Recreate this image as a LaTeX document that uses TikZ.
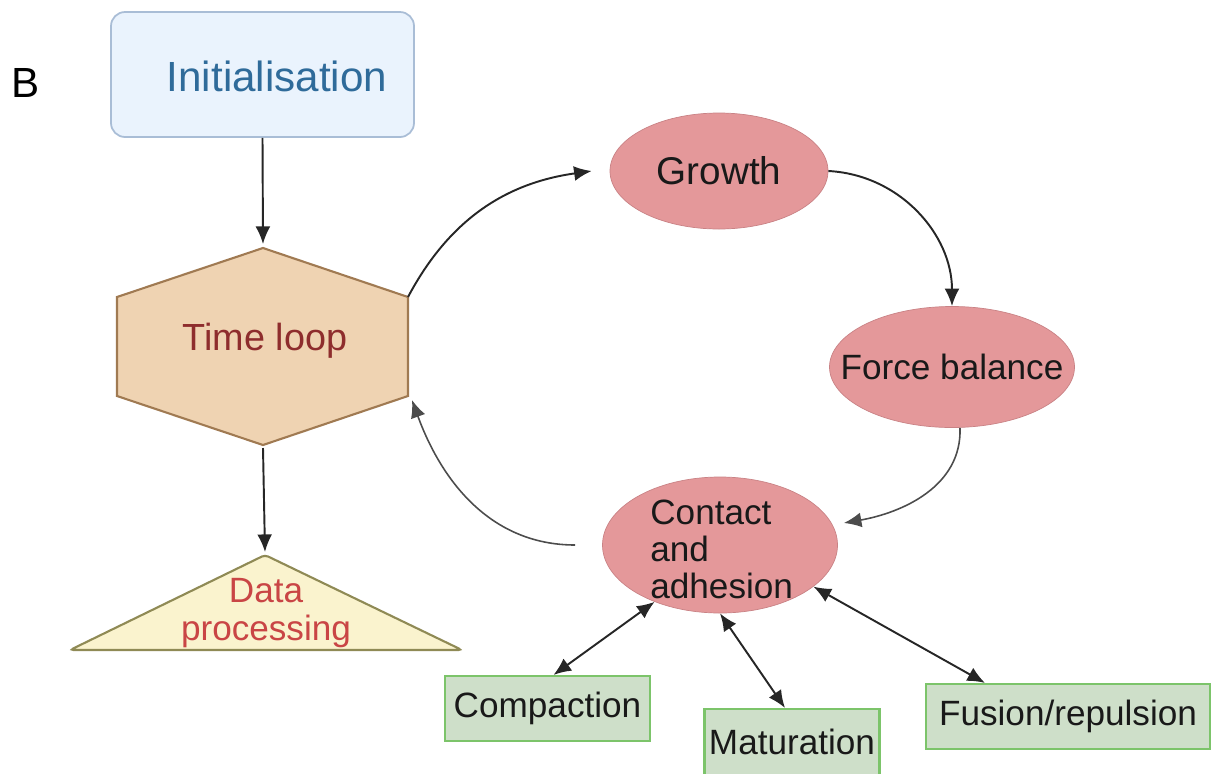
\documentclass[tikz,border=0pt]{standalone}
\usepackage{fontspec}
\setmainfont{Liberation Sans}
\usetikzlibrary{shapes.geometric, arrows.meta}
\definecolor{initfill}{HTML}{EAF3FD}
\definecolor{initdraw}{HTML}{A9BDD6}
\definecolor{inittext}{HTML}{2F6B9A}
\definecolor{hexfill}{HTML}{EFD3B2}
\definecolor{hexdraw}{HTML}{A07A52}
\definecolor{hextext}{HTML}{8E2D2D}
\definecolor{trifill}{HTML}{FAF3CE}
\definecolor{tridraw}{HTML}{8F8A55}
\definecolor{tritext}{HTML}{C94545}
\definecolor{cellfill}{HTML}{E4989A}
\definecolor{celldraw}{HTML}{C98285}
\definecolor{leaffill}{HTML}{CEDFC9}
\definecolor{leafdraw}{HTML}{7CC46A}
\tikzset{
  cell/.style={ellipse, draw=celldraw, fill=cellfill, inner sep=0pt},
  leaf/.style={rectangle, draw=leafdraw, fill=leaffill, line width=1.2pt, inner sep=0pt,
    font=\fontsize{20}{22}\selectfont, text=black!90},
  lbl/.style={inner sep=0pt, font=\fontsize{20}{21}\selectfont, text=black!90},
}

\begin{document}
\begin{tikzpicture}[>={Latex[length=10pt,width=8.5pt]}]
\useasboundingbox (0,0) rectangle (24.24,-15.46);
\node[font=\fontsize{24}{28}\selectfont] (panel) at (0.52,-1.66) {B};
\node[draw=initdraw, fill=initfill, rounded corners=8pt, line width=1pt, minimum width=6.06cm, minimum height=2.5cm] (init) at (5.25,-1.49) {};
\node[lbl, font=\fontsize{24}{27}\selectfont, text=inittext] (inittxt) at (5.54,-1.52) {Initialisation};

% time loop
\coordinate (hexn) at (5.26,-4.96);
\coordinate (hexne) at (8.16,-5.94);
\coordinate (hexse) at (8.16,-7.92);
\coordinate (hexs) at (5.26,-8.9);
\filldraw[fill=hexfill, draw=hexdraw, line width=1.2pt] (hexn) -- (hexne) -- (hexse) -- (hexs) -- (2.34,-7.92) -- (2.34,-5.94) -- cycle;
\node[lbl, font=\fontsize{21.5}{24}\selectfont, text=hextext] (loop) at (5.3,-6.82) {Time loop};

% data processing
\coordinate (trin) at (5.3,-11.1);
\filldraw[fill=trifill, draw=tridraw, line width=1.2pt, rounded corners=2pt] (trin) -- (9.24,-13.0) -- (1.4,-13.0) -- cycle;
\node[lbl, text=tritext, align=center, font=\fontsize{20}{21.6}\selectfont] (data) at (5.32,-12.27) {Data\\processing};

\draw[->, line width=1.1pt, black!85] (init.south) -- ([yshift=0.08cm]hexn);
\draw[->, line width=1.1pt, black!85] ([yshift=-0.06cm]hexs) -- ([yshift=0.06cm]trin);

% the cycle
\node[cell, minimum width=4.36cm, minimum height=2.32cm] (growth) at (14.38,-3.42) {};
\node[lbl, font=\fontsize{22}{24}\selectfont] (growthtxt) at (growth) {Growth};
\node[cell, minimum width=4.9cm, minimum height=2.42cm] (force) at (19.04,-7.34) {};
\node[lbl] (forcetxt) at (force) {Force balance};
\node[cell, minimum width=4.7cm, minimum height=2.72cm] (contact) at (14.4,-10.9) {};
\node[lbl, align=left, anchor=west] (contacttxt) at (13.0,-10.98) {Contact\\and\\adhesion};

\draw[->, line width=1.1pt, black!85] (hexne) to[out=62, in=188] ([xshift=-0.36cm]growth.west);
\draw[->, line width=1.1pt, black!85] (growth.east) to[out=-3, in=90] (force.north);
\draw[->, line width=0.9pt, black!70] ([xshift=0.16cm]force.south) to[out=-88, in=10] ([shift={(0.12,0.44)}]contact.east);
\draw[->, line width=0.9pt, black!70] ([xshift=-0.54cm]contact.west) to[out=180, in=-70] ([shift={(0.08,-0.08)}]hexse);

% sub steps
\node[leaf, minimum width=4.1cm, minimum height=1.3cm] (compact) at (10.95,-14.17) {Compaction};
\node[leaf, minimum width=3.5cm, minimum height=1.32cm] (mature) at (15.84,-14.84) {Maturation};
\node[leaf, minimum width=5.68cm, minimum height=1.3cm] (fusion) at (21.36,-14.33) {Fusion/repulsion};

\draw[<->, line width=1.1pt, black!85] ([xshift=0.12cm]compact.north) -- (contact.221);
\draw[<->, line width=1.1pt, black!85] ([xshift=-0.14cm]mature.north) -- (contact.south);
\draw[<->, line width=1.1pt, black!85] ([xshift=-1.66cm]fusion.north) -- (contact.-24);
\end{tikzpicture}
\end{document}
